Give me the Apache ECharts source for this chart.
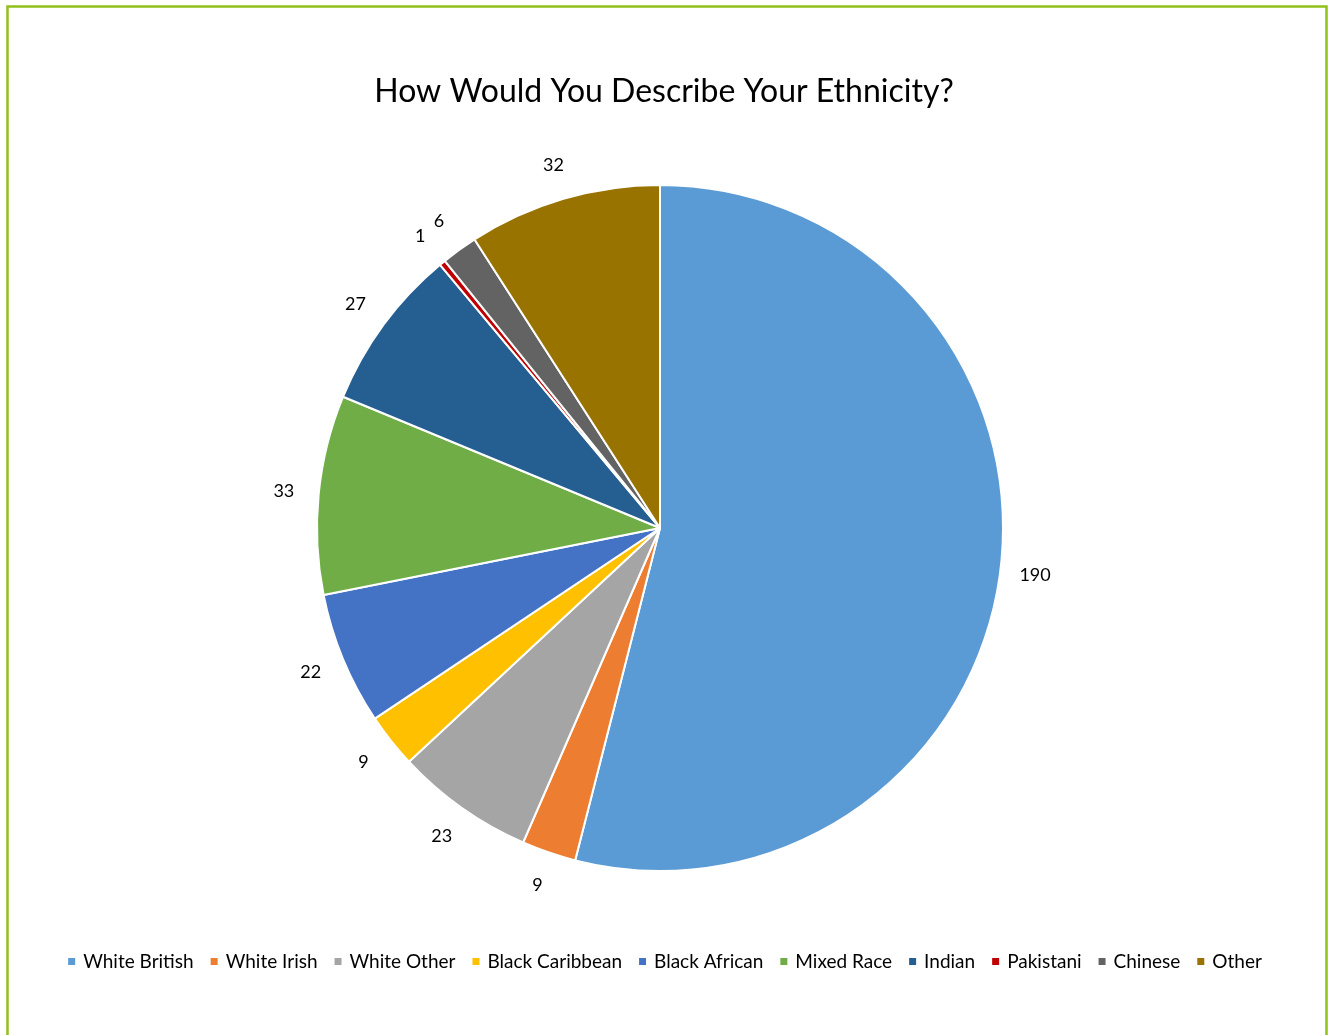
<!DOCTYPE html>
<html>
<head>
<meta charset="utf-8">
<script src="https://cdn.jsdelivr.net/npm/echarts@6/dist/echarts.min.js"></script>
<style>
html,body{margin:0;padding:0;background:#fff;}
#chart{width:1328px;height:1035px;}
</style>
</head>
<body>
<div id="chart"></div>
<script>
const categories = ['White British','White Irish','White Other','Black Caribbean','Black African','Mixed Race','Indian','Pakistani','Chinese','Other'];
const values = [190, 9, 23, 9, 22, 33, 27, 1, 6, 32];
const colors = ['#5B9BD5','#ED7D31','#A5A5A5','#FFC000','#4472C4','#70AD47','#255E91','#C00000','#636363','#997300'];
const titleText = 'How Would You Describe Your Ethnicity?';

const pieData = categories.map((c, i) => ({ name: c, value: values[i], itemStyle: { color: colors[i] } }));
const labelData = categories.map((c, i) => ({ name: c, value: values[i] }));

const font = 'Lato, "Open Sans", sans-serif';
const chart = echarts.init(document.getElementById('chart'), null, { renderer: 'canvas' });
chart.setOption({
  animation: false,
  backgroundColor: '#fff',
  title: {
    text: titleText,
    left: 'center',
    top: 71,
    textStyle: { fontFamily: font, fontSize: 32, fontWeight: 'normal', color: '#000' }
  },
  legend: {
    data: categories,
    left: 'center',
    top: 947,
    itemWidth: 9,
    itemHeight: 9,
    itemGap: 15,
    icon: 'rect',
    textStyle: { fontFamily: font, fontSize: 19, color: '#000', padding: [0, 0, 0, 2] }
  },
  graphic: [{
    type: 'rect',
    silent: true,
    shape: { x: 7.5, y: 6.5, width: 1319, height: 1060 },
    style: { fill: 'none', stroke: '#92C01A', lineWidth: 2.5 }
  }],
  series: [{
    type: 'pie',
    center: [660, 528],
    radius: [0, 343],
    startAngle: 90,
    clockwise: true,
    data: pieData,
    label: { show: false },
    labelLine: { show: false },
    itemStyle: { borderColor: '#fff', borderWidth: 2 },
    emphasis: { disabled: true }
  }, {
    type: 'pie',
    center: [660, 528],
    radius: [358, 392],
    startAngle: 90,
    clockwise: true,
    silent: true,
    data: labelData,
    itemStyle: { color: 'rgba(0,0,0,0)', borderWidth: 0 },
    label: { show: true, position: 'inside', formatter: '{c}', fontFamily: font, fontSize: 18, color: '#000' },
    labelLine: { show: false },
    emphasis: { disabled: true }
  }]
});
</script>
</body>
</html>
